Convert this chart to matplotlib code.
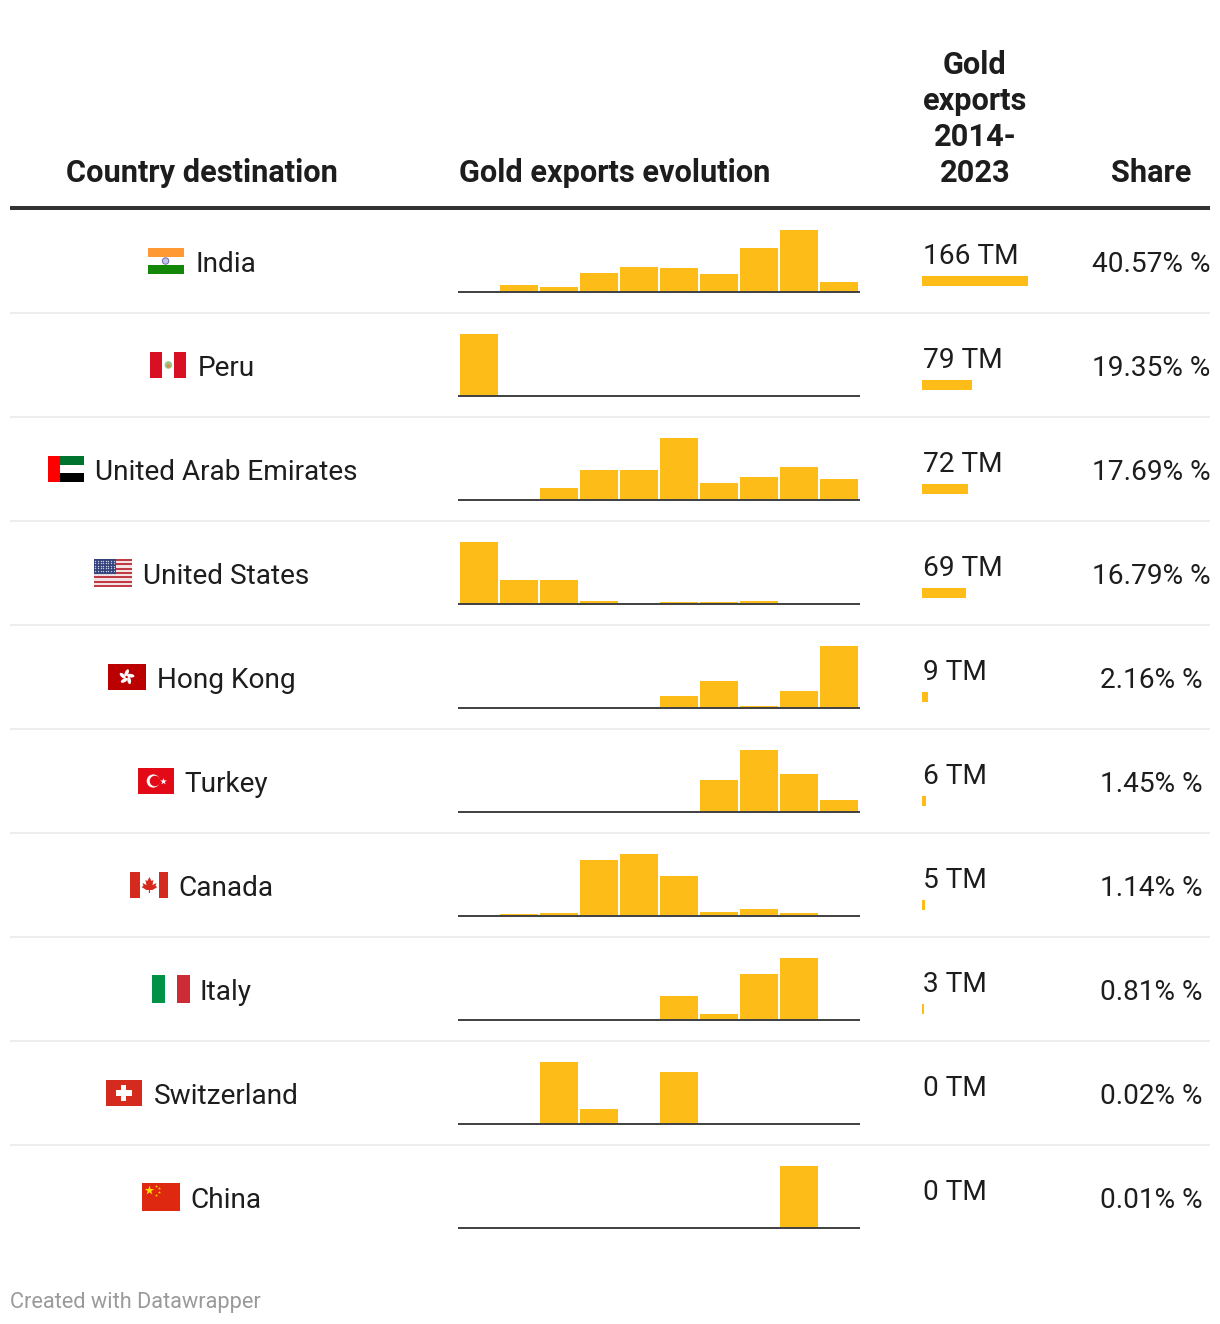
import matplotlib
matplotlib.use("Agg")
import numpy as np
from matplotlib import pyplot as plt
from matplotlib.patches import Rectangle, Circle, Ellipse, Polygon

plt.rcParams['font.family'] = ['Roboto', 'DejaVu Sans']

##### Data #####
countries = ["India", "Peru", "United Arab Emirates", "United States", "Hong Kong",
             "Turkey", "Canada", "Italy", "Switzerland", "China"]
years = [2014, 2015, 2016, 2017, 2018, 2019, 2020, 2021, 2022, 2023]

# yearly bars (each row is scaled to its own peak)
india = [0, 7, 5, 19, 25, 24, 18, 44, 62, 10]
peru = [62, 0, 0, 0, 0, 0, 0, 0, 0, 0]
uae = [0, 0, 12, 30, 30, 62, 17, 23, 33, 21]
usa = [62, 24, 24, 3, 0, 2, 2, 3, 0, 0]
hong_kong = [0, 0, 0, 0, 0, 12, 27, 2, 17, 62]
turkey = [0, 0, 0, 0, 0, 0, 32, 62, 38, 12]
canada = [0, 2, 3, 56, 62, 40, 4, 7, 3, 0]
italy = [0, 0, 0, 0, 0, 24, 6, 46, 62, 0]
switzerland = [0, 0, 62, 15, 0, 52, 0, 0, 0, 0]
china = [0, 0, 0, 0, 0, 0, 0, 0, 62, 0]
evolution = [india, peru, uae, usa, hong_kong, turkey, canada, italy, switzerland, china]

total_tm = [166, 79, 72, 69, 9, 6, 5, 3, 0, 0]
share = [40.57, 19.35, 17.69, 16.79, 2.16, 1.45, 1.14, 0.81, 0.02, 0.01]

##### Layout (pixels) #####
W, H = 1220, 1324
ROW = 104
FS = 28 * 0.72      # 28px text at dpi 100
HEAD_FS = 30.75 * 0.72
GOLD = "#FEBC18"
INK = "#1d1d1d"
AXIS = "#444444"

fig = plt.figure(figsize=(W / 100, H / 100), dpi=100, facecolor="white")
bg = fig.add_axes([0, 0, 1, 1])
bg.set_xlim(0, W)
bg.set_ylim(H, 0)
bg.axis("off")


def add_px_axes(left, top, width, height):
    ax = fig.add_axes([left / W, 1 - (top + height) / H, width / W, height / H])
    ax.patch.set_alpha(0)
    return ax


##### Flags #####
def rect(x, y, w, h, color):
    bg.add_patch(Rectangle((x, y), w, h, facecolor=color, edgecolor="none"))


def flag_india(x, y, w, h):
    rect(x, y, w, h / 3, "#FF9933")
    rect(x, y + h / 3, w, h / 3, "white")
    rect(x, y + 2 * h / 3, w, h / 3, "#138808")
    bg.add_patch(Circle((x + w / 2, y + h / 2), 3.2, facecolor="#c4c4e6", edgecolor="#6a6ab4", lw=0.7))


def flag_peru(x, y, w, h):
    rect(x, y, w / 3, h, "#D91023")
    rect(x + 2 * w / 3, y, w / 3, h, "#D91023")
    bg.add_patch(Circle((x + w / 2, y + h / 2), 3.8, facecolor="#9cc48a", edgecolor="none"))
    bg.add_patch(Circle((x + w / 2, y + h / 2 + 1), 1.6, facecolor="#e8842c", edgecolor="none"))


def flag_uae(x, y, w, h):
    rect(x + w / 3, y, 2 * w / 3, h / 3, "#00732F")
    rect(x + w / 3, y + 2 * h / 3, 2 * w / 3, h / 3, "black")
    rect(x, y, w / 3, h, "#FF0000")


def flag_usa(x, y, w, h):
    for s in range(13):
        rect(x, y + s * h / 13, w, h / 13, "#BF3B46" if s % 2 == 0 else "#F3E3E4")
    cw, ch = w * 0.57, h * 7 / 13
    rect(x, y, cw, ch, "#33437A")
    xs, ys = np.meshgrid(np.arange(x + 1.5, x + cw, 2.6), np.arange(y + 1.5, y + ch, 2.6))
    bg.scatter(xs.ravel(), ys.ravel(), s=1.0, color="#c5cbe0", linewidths=0)


def flag_hk(x, y, w, h):
    rect(x, y, w, h, "#BA0000")
    cx, cy = x + w / 2, y + h / 2
    for a in range(5):
        t = np.radians(a * 72 - 90)
        bg.add_patch(Ellipse((cx + 4.2 * np.cos(t), cy + 4.2 * np.sin(t)), 7.5, 3.6, angle=np.degrees(t) + 25,
                             facecolor="white", edgecolor="none"))


def flag_turkey(x, y, w, h):
    rect(x, y, w, h, "#E30A17")
    cx, cy = x + w * 0.42, y + h / 2
    bg.add_patch(Circle((cx, cy), 6.6, facecolor="white", edgecolor="none"))
    bg.add_patch(Circle((cx + 1.7, cy), 5.3, facecolor="#E30A17", edgecolor="none"))
    bg.scatter([x + w * 0.68], [cy], marker="*", s=26, color="white", linewidths=0)


def flag_canada(x, y, w, h):
    rect(x, y, w / 4, h, "#D52B1E")
    rect(x + 3 * w / 4, y, w / 4, h, "#D52B1E")
    cx, cy = x + w / 2, y + h / 2
    leaf = [(0, -8), (2, -4), (4, -5), (3, 0), (7, -2), (6, 1), (8, 2), (3, 5), (0.6, 5), (0.6, 8),
            (-0.6, 8), (-0.6, 5), (-3, 5), (-8, 2), (-6, 1), (-7, -2), (-3, 0), (-4, -5), (-2, -4)]
    bg.add_patch(Polygon([(cx + a, cy + b) for a, b in leaf], facecolor="#D52B1E", edgecolor="none"))


def flag_italy(x, y, w, h):
    rect(x, y, w / 3, h, "#009246")
    rect(x + 2 * w / 3, y, w / 3, h, "#CE2B37")


def flag_swiss(x, y, w, h):
    rect(x, y, w, h, "#D52B1E")
    cx, cy = x + w / 2, y + h / 2
    rect(cx - 8, cy - 2.8, 16, 5.6, "white")
    rect(cx - 2.8, cy - 8, 5.6, 16, "white")


def flag_china(x, y, w, h):
    rect(x, y, w, h, "#DE2910")
    bg.scatter([x + 7], [y + 6.5], marker="*", s=50, color="#FFDE00", linewidths=0)
    bg.scatter([x + 14, x + 16.5, x + 16.5, x + 14], [y + 2.5, y + 5, y + 9, y + 12], marker="*", s=5,
               color="#FFDE00", linewidths=0)


flag_funcs = [flag_india, flag_peru, flag_uae, flag_usa, flag_hk,
              flag_turkey, flag_canada, flag_italy, flag_swiss, flag_china]
flag_widths = [36, 36, 36, 38, 38, 36, 38, 38, 36, 38]
flag_heights = [26, 26, 26, 28, 26, 26, 26, 28, 26, 28]
flag_gaps = [12, 11, 11, 11, 11, 10, 10, 10, 12, 10]

##### Header #####
bg.text(202, 182, "Country destination", ha="center", va="baseline", fontsize=HEAD_FS, fontweight="bold", color=INK)
bg.text(459, 182, "Gold exports evolution", ha="left", va="baseline", fontsize=HEAD_FS, fontweight="bold", color=INK)
for n, line in enumerate(["Gold", "exports", "2014-", "2023"]):
    bg.text(975, 74 + 36 * n, line, ha="center", va="baseline", fontsize=HEAD_FS, fontweight="bold", color=INK)
bg.text(1151, 182, "Share", ha="center", va="baseline", fontsize=HEAD_FS, fontweight="bold", color=INK)
bg.hlines(208, 10, 1210, color="#333333", lw=4 * 0.72)

##### Rows #####
renderer = fig.canvas.get_renderer()
for i, name in enumerate(countries):
    y0 = ROW * i
    t = bg.text(226, 272 + y0, name, ha="center", va="baseline", fontsize=FS, color=INK)
    ext = t.get_window_extent(renderer)
    fw, fh = flag_widths[i], flag_heights[i]
    flag_funcs[i](ext.x0 - flag_gaps[i] - fw, 261 + y0 - fh / 2, fw, fh)

    # sparkline
    ax = add_px_axes(458, 230 + y0, 402, 62)
    ax.bar(np.arange(len(years)), evolution[i], width=0.95, color=GOLD, linewidth=0)
    ax.set_xlim(-0.525, 9.525)
    ax.set_ylim(0, max(evolution[i]))
    for side in ["top", "left", "right"]:
        ax.spines[side].set_visible(False)
    ax.spines["bottom"].set_color(AXIS)
    ax.spines["bottom"].set_linewidth(2 * 0.72)
    ax.spines["bottom"].set_capstyle("butt")
    ax.set_xticks([])
    ax.set_yticks([])

    bg.text(923, 264 + y0, "%d TM" % total_tm[i], ha="left", va="baseline", fontsize=FS, color=INK)
    bg.text(1151, 272 + y0, "%.2f%% %%" % share[i], ha="center", va="baseline", fontsize=FS, color=INK)

    if i < len(countries) - 1:
        bg.hlines(313 + y0, 10, 1210, color="#eeeeee", lw=2 * 0.72)

##### In-cell bars for the totals #####
bars = add_px_axes(922, 229, 106, ROW * len(countries))
bars.barh(np.arange(len(countries)), total_tm, height=10 / ROW, color=GOLD, linewidth=0)
bars.set_xlim(0, max(total_tm))
bars.set_ylim(len(countries) - 0.5, -0.5)
bars.axis("off")

##### Footer #####
bg.text(10, 1308, "Created with Datawrapper", ha="left", va="baseline", fontsize=21.8 * 0.72, color="#9a9a9a")

fig.savefig("out.png", dpi=100, facecolor="white")
